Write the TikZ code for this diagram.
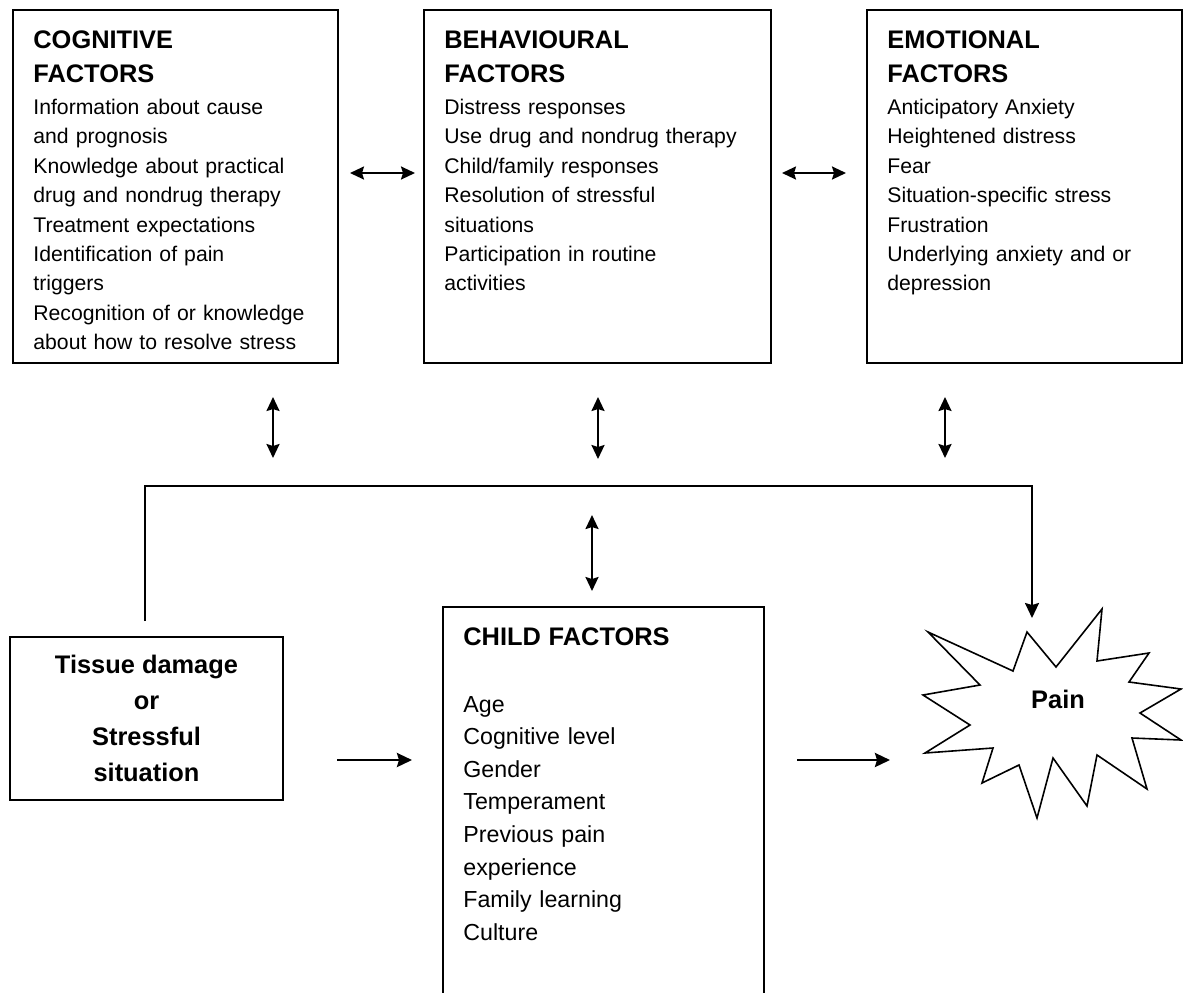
\documentclass[tikz,border=0pt]{standalone}
\usepackage{fontspec}
\setmainfont{Liberation Sans}
\usetikzlibrary{positioning, arrows.meta, calc}
\newcommand{\headfont}{\fontsize{12.7pt}{17pt}\selectfont\bfseries}

\begin{document}
\begin{tikzpicture}[
        x=0.5pt, y=-0.5pt,
        factorbox/.style={rectangle, draw=black, line width=1pt, anchor=north west, inner sep=0pt},
        factortext/.style={anchor=north west, align=left, inner sep=0pt, font=\fontsize{10.6pt}{14.7pt}\selectfont},
        childtext/.style={factortext, font=\fontsize{11.6pt}{16.3pt}\selectfont},
        burst/.style={draw=black, line width=0.8pt, line join=miter},
        arrow/.style={line width=1.3pt, -{Stealth[length=7.5pt, width=7pt, inset=1pt]}},
        dblarrow/.style={line width=1.1pt, {Stealth[length=7pt, width=6.5pt, inset=1pt]}-{Stealth[length=7pt, width=6.5pt, inset=1pt]}}
    ]
        \fill[white] (0,0) rectangle (1183,992);
        \useasboundingbox (0,0) rectangle (1183,992);

        % top row of factor boxes
        \node[factorbox, minimum width=162.5pt, minimum height=176.5pt] (cog) at (12,9) {};
        \node[factorbox, minimum width=173.5pt, minimum height=176.5pt, right=42pt of cog] (beh) {};
        \node[factorbox, minimum width=157.5pt, minimum height=176.5pt, right=47pt of beh] (emo) {};

        \node[factortext, text width=141pt, below right=10.5pt and 10.5pt of cog.north west] (cogtext)
            {{\headfont COGNITIVE\\ FACTORS\par}\vspace{1.5pt}
             Information about cause\\ and prognosis\\ Knowledge about practical\\ drug and nondrug therapy\\
             Treatment expectations\\ Identification of pain\\ triggers\\ Recognition of or knowledge\\
             about how to resolve stress};
        \node[factortext, text width=152pt, below right=10.5pt and 10.5pt of beh.north west] (behtext)
            {{\headfont BEHAVIOURAL\\ FACTORS\par}\vspace{1.5pt}
             Distress responses\\ Use drug and nondrug therapy\\ Child/family responses\\
             Resolution of stressful\\ situations\\ Participation in routine\\ activities};
        \node[factortext, text width=136pt, below right=10.5pt and 10.5pt of emo.north west] (emotext)
            {{\headfont EMOTIONAL\\ FACTORS\par}\vspace{1.5pt}
             Anticipatory Anxiety\\ Heightened distress\\ Fear\\ Situation-specific stress\\
             Frustration\\ Underlying anxiety and or\\ depression};

        % bottom row
        \node[factorbox, minimum width=136.5pt, minimum height=81.5pt, align=center,
            font=\fontsize{12.7pt}{18pt}\selectfont\bfseries] (tissue) at (9,636)
            {Tissue damage\\ or\\ Stressful\\ situation};
        \node[factorbox, minimum width=160.5pt, minimum height=197pt] (child) at (442,606) {};
        \node[childtext, text width=139pt, below right=10.5pt and 10.5pt of child.north west] (childlist)
            {{\headfont CHILD FACTORS\par}\vspace{17.2pt}
             Age\\ Cognitive level\\ Gender\\ Temperament\\ Previous pain\\ experience\\
             Family learning\\ Culture};

        \node[inner sep=0pt, font=\fontsize{12.7pt}{15pt}\selectfont\bfseries] (pain) at (1058,699) {Pain};
        \draw[burst] (928,632) -- (1013,671) -- (1027,632) coordinate (burstN) -- (1056,667) -- (1102,609)
            -- (1097,661) -- (1149,653) -- (1129,682) -- (1181,689) -- (1140,713) -- (1181,740)
            -- (1132,738) -- (1147,789) -- (1097,755) -- (1087,806) -- (1053,758) -- (1037,818)
            -- (1019,765) -- (982,783) -- (993,748) -- (925,753) -- (970,725) -- (923,695) coordinate (burstW)
            -- (980,685) -- cycle;

        % connectors
        \coordinate (toprow) at (0,173);
        \coordinate (flow) at (0,760);
        \coordinate (barL) at (145,486);
        \coordinate (barR) at (1032,486);
        \coordinate (cogdrop) at (273,486);
        \coordinate (behdrop) at (598,486);
        \coordinate (emodrop) at (945,486);
        \coordinate (childrise) at (592,486);

        \draw[dblarrow, shorten <=5.5pt, shorten >=4pt] (cog.east |- toprow) -- (beh.west |- toprow);
        \draw[dblarrow, shorten <=5pt, shorten >=10pt] (beh.east |- toprow) -- (emo.west |- toprow);
        \draw[dblarrow, shorten <=16.5pt, shorten >=14pt] (cog.south -| cogdrop) -- (cogdrop);
        \draw[dblarrow, shorten <=16.5pt, shorten >=13.5pt] (beh.south -| behdrop) -- (behdrop);
        \draw[dblarrow, shorten <=16.5pt, shorten >=14pt] (emo.south -| emodrop) -- (emodrop);
        \draw[dblarrow, shorten <=14.5pt, shorten >=7.5pt] (childrise) -- (child.north -| childrise);
        \draw[arrow, line width=1pt, shorten <=7.5pt, shorten >=7pt] (tissue.north -| barL) -- (barL) -- (barR) -- (barR |- burstN);
        \draw[arrow, shorten <=26.5pt, shorten >=15pt] (tissue.east |- flow) -- (child.west |- flow);
        \draw[arrow, shorten <=16pt, shorten >=16.5pt] (child.east |- flow) -- (burstW |- flow);
    \end{tikzpicture}
\end{document}
